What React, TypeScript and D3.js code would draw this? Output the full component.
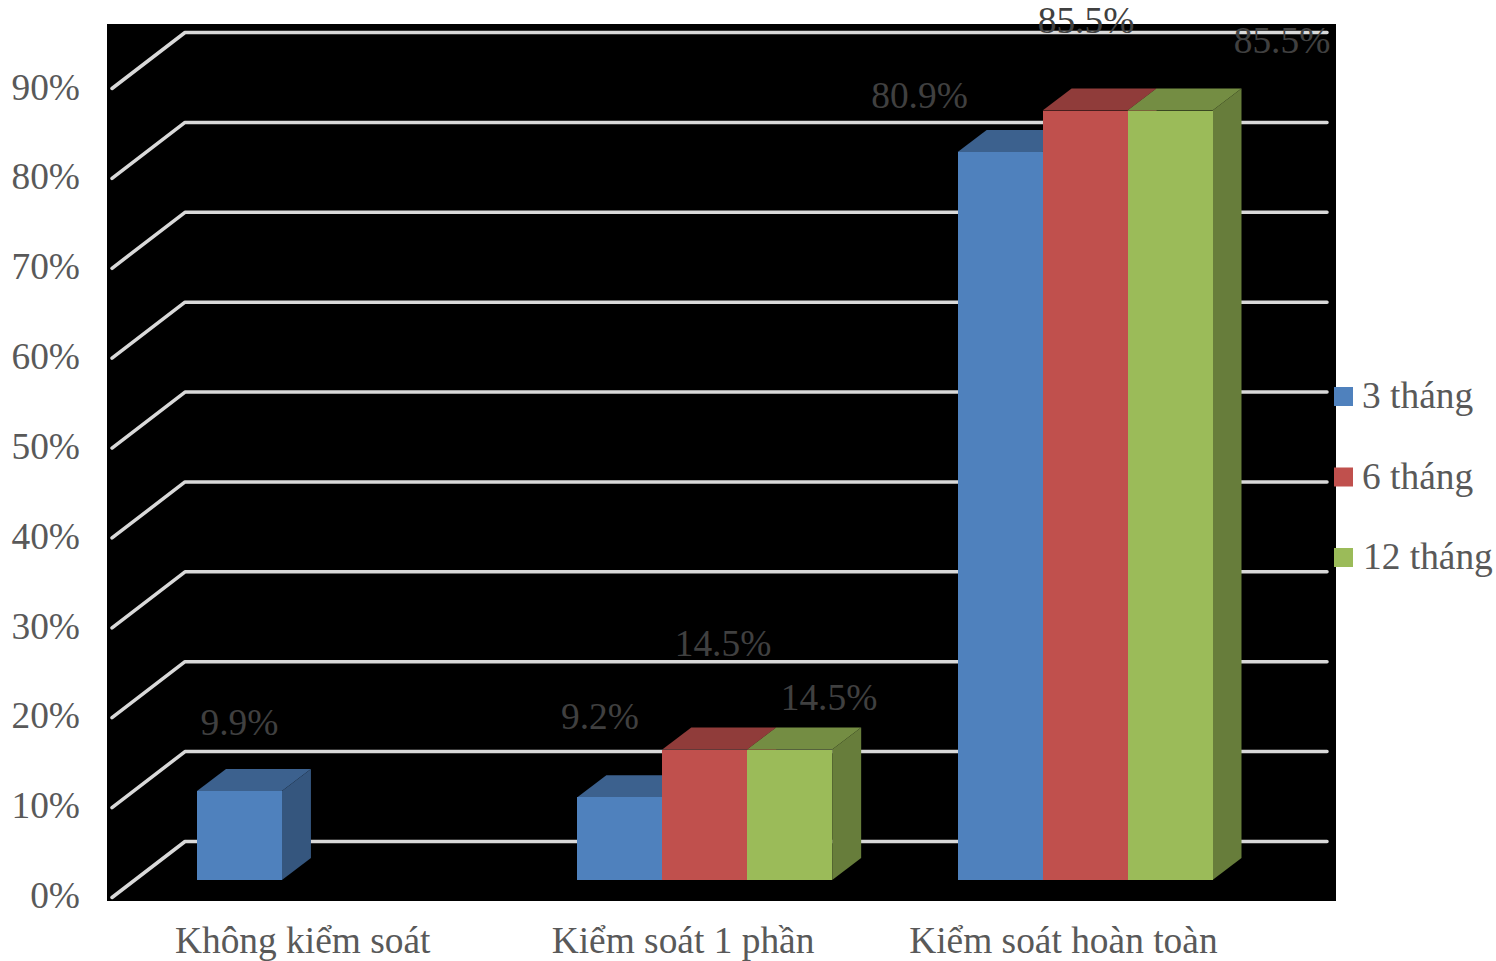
import React from "react";
import * as d3 from "d3";

const categories = ["Không kiểm soát", "Kiểm soát 1 phần", "Kiểm soát hoàn toàn"];
const seriesNames = ["3 tháng", "6 tháng", "12 tháng"];
const threeMonths: (number | null)[] = [9.9, 9.2, 80.9];
const sixMonths: (number | null)[] = [null, 14.5, 85.5];
const twelveMonths: (number | null)[] = [null, 14.5, 85.5];
const seriesValues = [threeMonths, sixMonths, twelveMonths];
const tickValues = [0, 10, 20, 30, 40, 50, 60, 70, 80, 90];

const frontColors = ["#4f81bd", "#c0504d", "#9bbb59"];
const topColors = ["#3c618e", "#903c3a", "#748d43"];
const sideColors = ["#35567e", "#803533", "#677d3b"];

// Hand-placed data label centres, as in the source chart: [series][category] -> [x, baseline]
const labelPlacement: ([number, number] | null)[][] = [
  [[239.5, 735], [600, 729], [919.5, 108]],
  [null, [723, 656], [1086, 33]],
  [null, [829, 710], [1282, 53]],
];

const font = "'Liberation Serif', 'Times New Roman', serif";
const fontSize = 37.4;
const depthX = 29;
const depthY = 22;

const yFront = d3.scaleLinear().domain([0, 90]).range([880, 70]);
const yBack = d3.scaleLinear().domain([0, 90]).range([841.5, 32.5]);
const yTick = d3.scaleLinear().domain([0, 90]).range([908, 99.5]);
const xCategory = d3.scaleBand<string>().domain(categories).range([197, 1212.5]).paddingInner(0.33);
const xSeries = d3.scaleBand<number>().domain([0, 1, 2]).range([0, xCategory.bandwidth()]);
const pct = (v: number) => `${v}%`;
const poly = (pts: [number, number][]) => d3.line()(pts) + "Z";

export default function App() {
  React.useEffect(() => {
    document.body.style.margin = "0";
  }, []);
  return (
    <svg
      width={1496}
      height={961}
      style={{ position: "absolute", left: 0, top: 0, display: "block", background: "#fff" }}
      fontFamily={font}
      fontSize={fontSize}
    >
      <rect x={107} y={24} width={1229} height={877} fill="#000" />

      {/* Back wall and side wall gridlines */}
      <g stroke="#d9d9d9" strokeWidth={3.5} strokeLinecap="round" fill="none">
        {tickValues.map((t) => (
          <path
            key={t}
            d={`M${112},${yBack(t) + 56}L${185},${yBack(t)}L${1327},${yBack(t)}`}
            strokeLinejoin="round"
          />
        ))}
      </g>

      {/* Axis labels */}
      <g fill="#595959" textAnchor="end">
        {tickValues.map((t) => (
          <text key={t} x={80} y={yTick(t)}>
            {pct(t)}
          </text>
        ))}
      </g>
      <g fill="#595959" textAnchor="middle">
        {categories.map((c) => (
          <text key={c} x={xCategory(c)! + xCategory.bandwidth() / 2 - 21.7} y={953}>
            {c}
          </text>
        ))}
      </g>

      {/* Extruded bars, drawn back to front from left to right */}
      {categories.map((c, ci) => {
        const bars = seriesValues
          .map((values, si) => ({ si, v: values[ci] }))
          .filter((b) => b.v !== null) as { si: number; v: number }[];
        return (
          <g key={c}>
            {bars.map(({ si, v }) => {
              const x0 = xCategory(c)! + xSeries(si)!;
              const x1 = x0 + xSeries.bandwidth();
              const top = yFront(v);
              const base = yFront(0);
              return (
                <g key={si}>
                  <path
                    d={poly([[x0, top], [x0 + depthX, top - depthY], [x1 + depthX, top - depthY], [x1, top]])}
                    fill={topColors[si]}
                  />
                  <path
                    d={poly([[x1, top], [x1 + depthX, top - depthY], [x1 + depthX, base - depthY], [x1, base]])}
                    fill={sideColors[si]}
                  />
                  <rect
                    x={x0}
                    y={top}
                    width={x1 - x0}
                    height={base - top}
                    fill={frontColors[si]}
                    shapeRendering="crispEdges"
                  />
                </g>
              );
            })}
          </g>
        );
      })}

      {/* Data labels */}
      <g fill="#404040" textAnchor="middle">
        {seriesValues.map((values, si) =>
          values.map((v, ci) => {
            const at = labelPlacement[si][ci];
            return v === null || !at ? null : (
              <text key={`${si}-${ci}`} x={at[0]} y={at[1]}>
                {pct(v)}
              </text>
            );
          })
        )}
      </g>

      {/* Legend */}
      <g>
        {seriesNames.map((name, i) => (
          <g key={name} transform={`translate(1334,${387 + i * 80.5})`}>
            <rect width={19} height={19} fill={frontColors[i]} />
            <text x={i === 2 ? 29 : 28} y={21} fill="#595959">
              {name}
            </text>
          </g>
        ))}
      </g>
    </svg>
  );
}
